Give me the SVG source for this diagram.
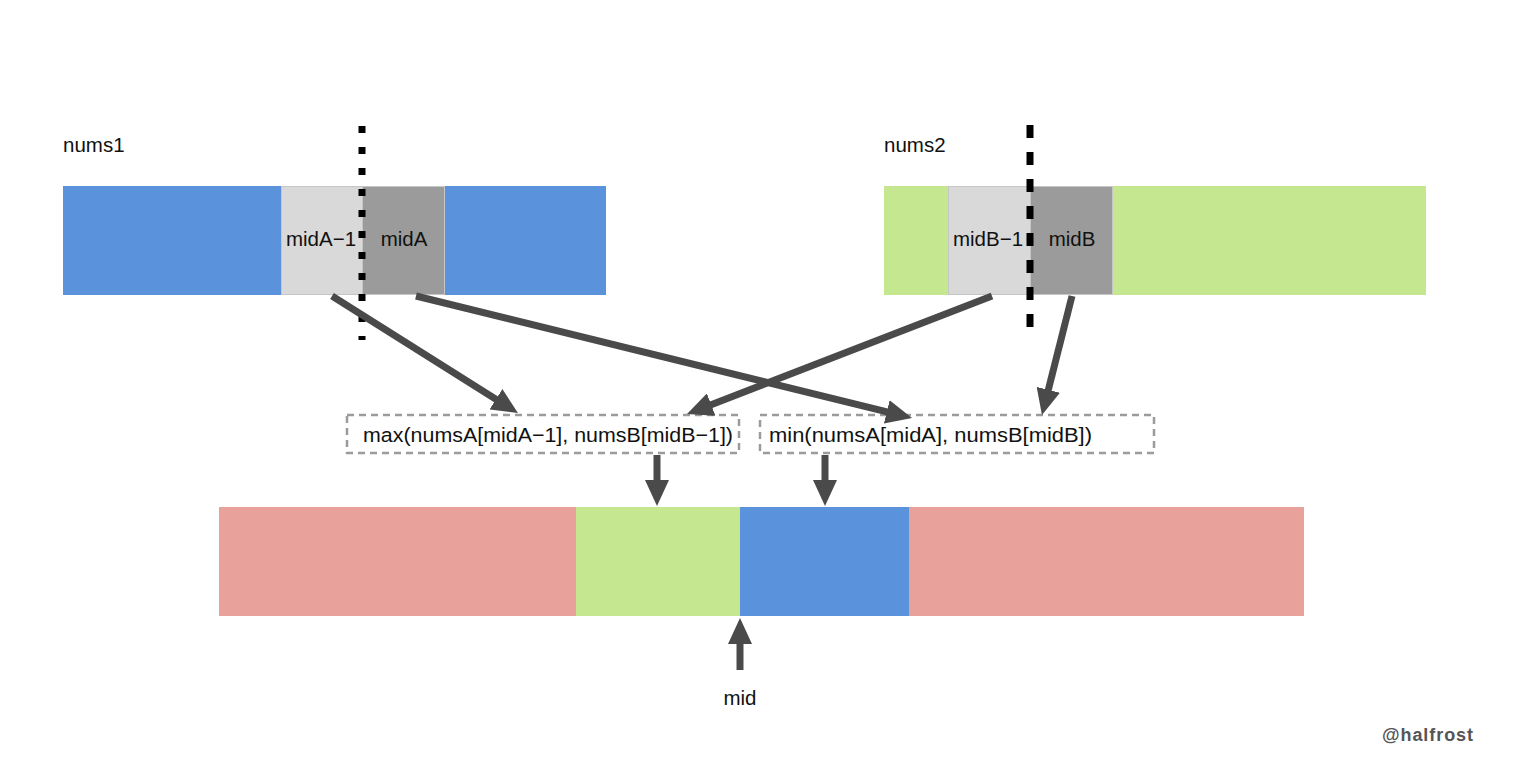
<svg xmlns="http://www.w3.org/2000/svg" width="1524" height="764" viewBox="0 0 1524 764">
<style>
text{font-family:"Liberation Sans",Arial,sans-serif;font-size:20.5px;fill:#111}
.blue{fill:#5A93DB}
.green{fill:#C5E790}
.red{fill:#E8A19B}
.lg{fill:#D9D9D9;stroke:#C6C6C6;stroke-width:1}
.dg{fill:#9B9B9B;stroke:#C6C6C6;stroke-width:1}
.box{fill:none;stroke:#9B9B9B;stroke-width:2.5;stroke-dasharray:7 5}
.arr{stroke:#4A4A4A;stroke-width:7;fill:none;marker-end:url(#ah)}
</style>
<defs>
<marker id="ah" markerUnits="userSpaceOnUse" markerWidth="26" markerHeight="24" refX="16" refY="12" orient="auto">
<path d="M0,0 L26,12 L0,24 z" fill="#4A4A4A"/>
</marker>
</defs>
<rect width="1524" height="764" fill="#fff"/>
<g id="nums1">
<text x="63" y="152">nums1</text>
<rect class="blue" x="63" y="186" width="543" height="109"/>
<rect class="lg" x="281.5" y="186.5" width="81" height="108"/>
<rect class="dg" x="362.5" y="186.5" width="82" height="108"/>
<text x="321" y="246" text-anchor="middle">midA−1</text>
<text x="404" y="246" text-anchor="middle">midA</text>
<line x1="362" y1="126" x2="362" y2="340" stroke="#000" stroke-width="7" stroke-dasharray="7 14"/>
</g>
<g id="nums2">
<text x="884" y="152">nums2</text>
<rect class="green" x="884" y="186" width="542" height="109"/>
<rect class="lg" x="948.5" y="186.5" width="82" height="108"/>
<rect class="dg" x="1030.5" y="186.5" width="82" height="108"/>
<text x="988" y="246" text-anchor="middle">midB−1</text>
<text x="1072" y="246" text-anchor="middle">midB</text>
<line x1="1030" y1="125" x2="1030" y2="334" stroke="#000" stroke-width="7" stroke-dasharray="13 14"/>
</g>
<g id="maxbox">
<rect class="box" x="347" y="415" width="392" height="38"/>
<text x="363" y="442" textLength="370" lengthAdjust="spacingAndGlyphs">max(numsA[midA−1], numsB[midB−1])</text>
</g>
<g id="minbox">
<rect class="box" x="760" y="415" width="394" height="38"/>
<text x="769" y="442" textLength="323" lengthAdjust="spacingAndGlyphs">min(numsA[midA], numsB[midB])</text>
</g>
<g id="merged">
<rect class="red" x="219" y="507" width="1085" height="109"/>
<rect class="green" x="576" y="507" width="164" height="109"/>
<rect class="blue" x="740" y="507" width="169" height="109"/>
</g>
<g id="mid">
<text x="740" y="705" text-anchor="middle">mid</text>
</g>
<g id="connectors">
<line class="arr" x1="332" y1="296" x2="509.5" y2="407.7"/>
<line class="arr" x1="416" y1="296" x2="902.3" y2="415.6"/>
<line class="arr" x1="992" y1="296" x2="696.3" y2="410.4"/>
<line class="arr" x1="1072" y1="296" x2="1044.4" y2="405.3"/>
<line class="arr" x1="657" y1="455" x2="657" y2="496"/>
<line class="arr" x1="825" y1="455" x2="825" y2="496"/>
<line class="arr" x1="740" y1="670" x2="740" y2="628"/>
</g>
<text x="1382" y="741" style="fill:#555;font-weight:bold;font-size:18px" textLength="91">@halfrost</text>
</svg>
